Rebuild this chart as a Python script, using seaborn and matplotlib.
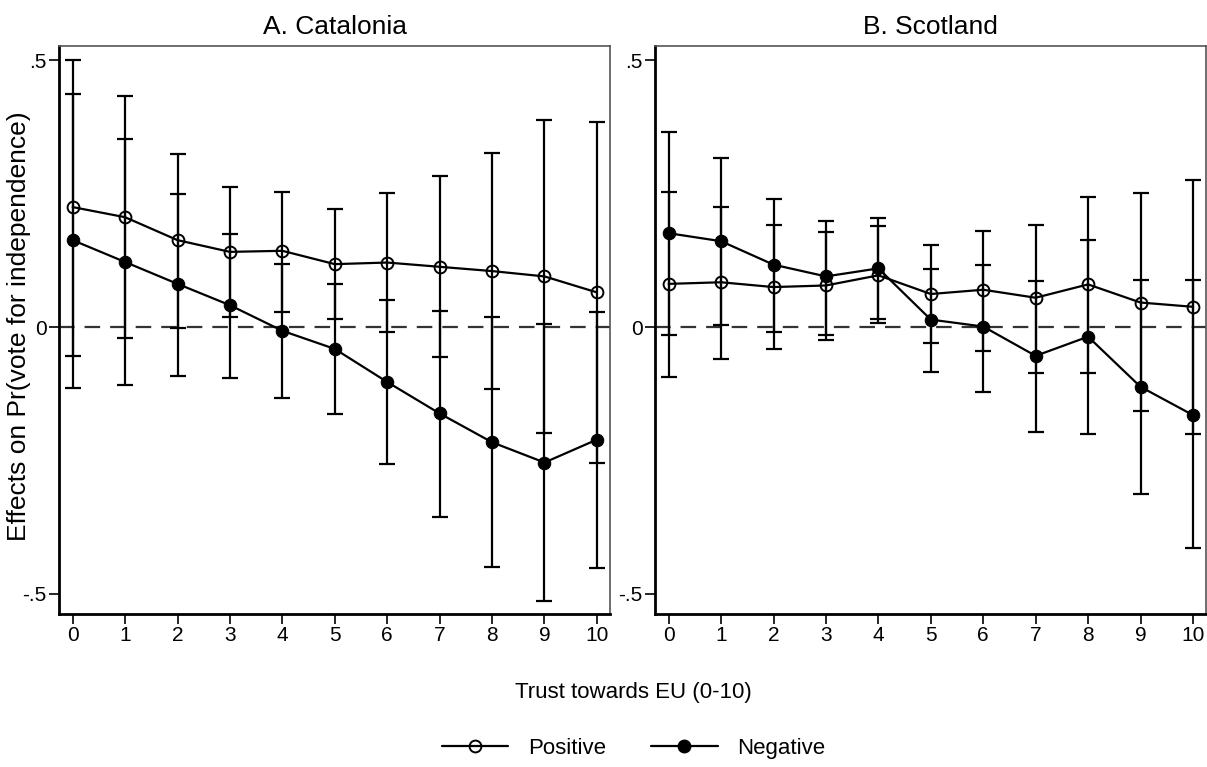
import numpy as np
import pandas as pd
import seaborn as sns
import matplotlib
import matplotlib.pyplot as plt
from matplotlib.lines import Line2D

trust = list(range(11))

# Catalonia
cat_pos = [0.225, 0.206, 0.163, 0.141, 0.143, 0.118, 0.121, 0.113, 0.105, 0.095, 0.065]
cat_pos_lo = [-0.054, -0.021, -0.002, 0.019, 0.028, 0.015, -0.009, -0.056, -0.116, -0.199, -0.255]
cat_pos_hi = [0.501, 0.433, 0.325, 0.263, 0.253, 0.221, 0.251, 0.283, 0.326, 0.388, 0.385]
cat_neg = [0.163, 0.122, 0.081, 0.041, -0.007, -0.041, -0.103, -0.162, -0.216, -0.254, -0.211]
cat_neg_lo = [-0.114, -0.109, -0.092, -0.096, -0.133, -0.163, -0.257, -0.356, -0.450, -0.514, -0.452]
cat_neg_hi = [0.437, 0.353, 0.250, 0.174, 0.118, 0.081, 0.051, 0.030, 0.019, 0.006, 0.028]

# Scotland
sco_pos = [0.081, 0.084, 0.075, 0.078, 0.097, 0.062, 0.070, 0.055, 0.080, 0.046, 0.038]
sco_pos_lo = [-0.093, -0.059, -0.042, -0.024, 0.008, -0.029, -0.044, -0.086, -0.086, -0.157, -0.200]
sco_pos_hi = [0.253, 0.226, 0.191, 0.178, 0.189, 0.153, 0.180, 0.191, 0.243, 0.251, 0.275]
sco_neg = [0.176, 0.161, 0.117, 0.095, 0.110, 0.014, 0.001, -0.054, -0.018, -0.112, -0.165]
sco_neg_lo = [-0.014, 0.003, -0.010, -0.014, 0.016, -0.084, -0.121, -0.196, -0.200, -0.313, -0.415]
sco_neg_hi = [0.366, 0.317, 0.241, 0.198, 0.204, 0.108, 0.116, 0.087, 0.164, 0.089, 0.089]

titles = ['A. Catalonia', 'B. Scotland']
ytick_vals = [-0.5, 0, 0.5]
ytick_labels = ['-.5', '0', '.5']

sns.set_theme(style='white')
plt.rcParams['font.family'] = ['Liberation Sans', 'DejaVu Sans']
plt.rcParams['text.color'] = 'black'
plt.rcParams['xtick.color'] = 'black'
plt.rcParams['ytick.color'] = 'black'
plt.rcParams['axes.labelcolor'] = 'black'

fig = plt.figure(figsize=(12.07, 7.67), dpi=100)
ax1 = fig.add_axes([0.0489, 0.1995, 0.4565, 0.7405])
ax2 = fig.add_axes([0.5427, 0.1995, 0.4565, 0.7405])

panels = [
    (ax1, cat_pos, cat_pos_lo, cat_pos_hi, cat_neg, cat_neg_lo, cat_neg_hi),
    (ax2, sco_pos, sco_pos_lo, sco_pos_hi, sco_neg, sco_neg_lo, sco_neg_hi),
]

for k, (ax, pos, pos_lo, pos_hi, neg, neg_lo, neg_hi) in enumerate(panels):
    df = pd.DataFrame({'trust': trust * 2,
                       'effect': pos + neg,
                       'lo': pos_lo + neg_lo,
                       'hi': pos_hi + neg_hi,
                       'frame': ['Positive'] * 11 + ['Negative'] * 11})
    ax.axhline(0, color='#333333', lw=1.6, dashes=(7, 4.5), zorder=1)
    for name in ['Positive', 'Negative']:
        d = df[df['frame'] == name]
        ax.errorbar(d['trust'], d['effect'],
                    yerr=[d['effect'] - d['lo'], d['hi'] - d['effect']],
                    fmt='none', ecolor='black', elinewidth=1.6, capsize=5.5,
                    capthick=1.6, zorder=2)
    sns.lineplot(data=df[df['frame'] == 'Positive'], x='trust', y='effect', ax=ax,
                 color='black', lw=1.6, marker='o', markersize=8.5,
                 markerfacecolor='none', markeredgecolor='black', markeredgewidth=1.4,
                 zorder=3, legend=False)
    sns.lineplot(data=df[df['frame'] == 'Negative'], x='trust', y='effect', ax=ax,
                 color='black', lw=1.6, marker='o', markersize=9,
                 markerfacecolor='black', markeredgecolor='black',
                 zorder=3, legend=False)

    ax.set_xlim(-0.26, 10.25)
    ax.set_ylim(-0.538, 0.527)
    ax.set_xticks(trust)
    ax.set_xticklabels([str(t) for t in trust], fontsize=15)
    ax.set_yticks(ytick_vals)
    ax.set_yticklabels(ytick_labels, fontsize=15)
    ax.tick_params(axis='both', direction='out', length=7, width=1.2,
                   color='black', labelcolor='black', pad=2, left=True, bottom=True)
    ax.set_xlabel('')
    ax.set_ylabel('')
    ax.set_title(titles[k], fontsize=19, pad=9, color='black')
    for side in ['left', 'bottom']:
        ax.spines[side].set_color('black')
        ax.spines[side].set_linewidth(2)
    for side in ['top', 'right']:
        ax.spines[side].set_color('#555555')
        ax.spines[side].set_linewidth(1.2)

fig.text(0.0155, 0.575, 'Effects on Pr(vote for independence)', rotation=90,
         ha='center', va='center', fontsize=19, color='black')
fig.text(0.525, 0.097, 'Trust towards EU (0-10)', ha='center', va='center',
         fontsize=16, color='black')

handles = [
    Line2D([], [], color='black', lw=1.6, marker='o', markersize=8.5,
           markerfacecolor='none', markeredgewidth=1.4),
    Line2D([], [], color='black', lw=1.6, marker='o', markersize=9,
           markerfacecolor='black'),
]
leg = fig.legend(handles, ['Positive', 'Negative'], loc='center',
                 bbox_to_anchor=(0.525, 0.024), ncol=2, frameon=False, fontsize=16,
                 handlelength=3.0, columnspacing=2.0, handletextpad=0.9)
for t in leg.get_texts():
    t.set_color('black')

fig.savefig('out.png', dpi=100)
